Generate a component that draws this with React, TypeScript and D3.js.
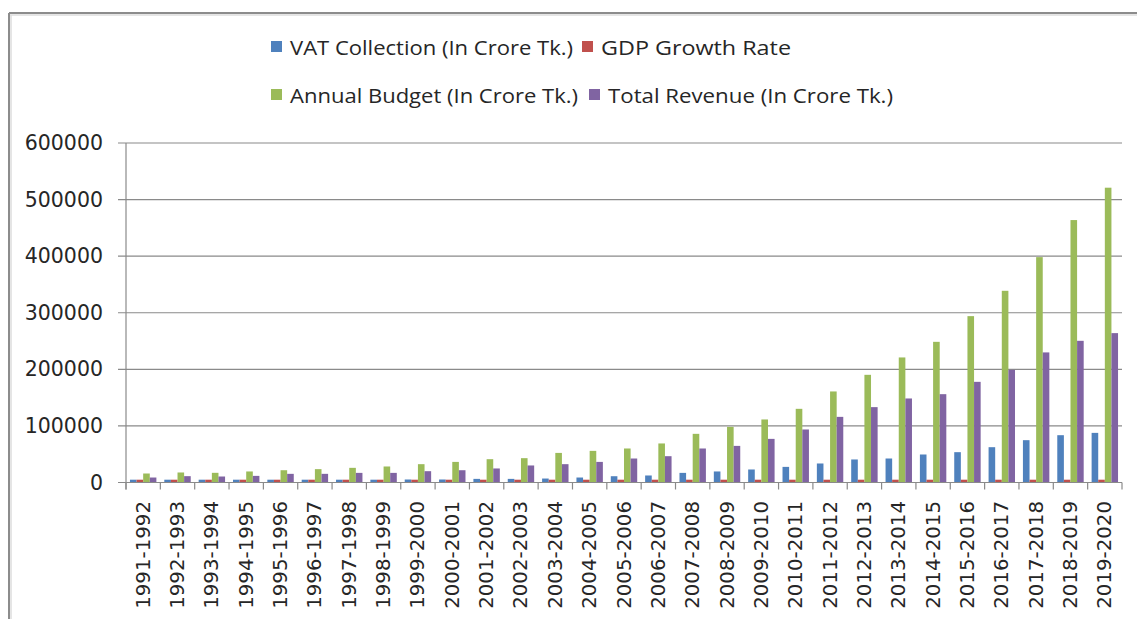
import React from "react";
import * as d3 from "d3";

const categories = [
  "1991-1992","1992-1993","1993-1994","1994-1995","1995-1996","1996-1997","1997-1998","1998-1999","1999-2000","2000-2001",
  "2001-2002","2002-2003","2003-2004","2004-2005","2005-2006","2006-2007","2007-2008","2008-2009","2009-2010","2010-2011",
  "2011-2012","2012-2013","2013-2014","2014-2015","2015-2016","2016-2017","2017-2018","2018-2019","2019-2020",
];

const vatCollection = [
  1200, 2300, 2500, 2900, 3000, 3200, 3700, 4700, 5300, 5300,
  6400, 6400, 7000, 8800, 11100, 12400, 17000, 19500, 23000, 27600,
  33600, 40700, 42400, 49500, 53600, 62400, 74800, 83600, 87700,
];

const gdpGrowthRate = [
  5.04, 4.57, 4.08, 4.93, 4.62, 5.39, 5.23, 4.87, 5.94, 5.27,
  4.42, 5.26, 6.27, 5.96, 6.63, 6.43, 6.19, 5.74, 6.07, 6.71,
  6.52, 6.01, 6.06, 6.55, 7.11, 7.28, 7.86, 8.15, 5.24,
];

const annualBudget = [
  15900, 17700, 17100, 19500, 21700, 23600, 25900, 28300, 32400, 36400,
  41200, 43000, 52300, 55900, 60100, 69000, 86000, 98300, 111400, 130200,
  160900, 190300, 221000, 248600, 294000, 338800, 398300, 463800, 521000,
];

const totalRevenue = [
  8800, 11200, 10600, 11700, 15300, 15300, 17000, 17000, 20000, 21700,
  24800, 30100, 32400, 36400, 42400, 46500, 60100, 64700, 77100, 93700,
  116000, 133200, 148500, 156100, 177900, 199100, 229900, 250400, 264000,
];

const yTicks = [0, 100000, 200000, 300000, 400000, 500000, 600000];

const seriesNames = [
  "VAT Collection (In Crore Tk.)",
  "GDP Growth Rate",
  "Annual Budget (In Crore Tk.)",
  "Total Revenue (In Crore Tk.)",
];
const seriesValues = [vatCollection, gdpGrowthRate, annualBudget, totalRevenue];
const colors = ["#4F81BD", "#C0504D", "#9BBB59", "#8064A2"];

export default function App() {
  const W = 1137, H = 619;
  const left = 126, right = 1122, top = 143, bottom = 482.5;
  const x = d3.scaleBand<string>().domain(categories).range([left, right]).paddingInner(0).paddingOuter(0);
  const inner = d3.scaleBand<string>().domain(seriesNames).range([0, x.bandwidth()]).paddingInner(0).paddingOuter(0.6);
  const y = d3.scaleLinear().domain([0, 600000]).range([bottom, top]);
  const axisColor = "#8a8a8a";
  const font = "'DejaVu Sans', Verdana, sans-serif";
  const legendFont = "'Open Sans', sans-serif";

  const legendItems = [
    { i: 0, sx: 271, ty: 51, len: 283 },
    { i: 1, sx: 582, ty: 51, len: 190 },
    { i: 2, sx: 271, ty: 99, len: 288 },
    { i: 3, sx: 589, ty: 99, len: 285 },
  ];

  const boundaries = categories.map((c) => x(c)!).concat([right]);

  return (
    <svg width={W} height={H} style={{ position: "fixed", left: 0, top: 0, background: "#fff" }}>
      <rect x={0} y={0} width={W} height={H} fill="#fff" />
      {/* frame */}
      <line x1={9} y1={13} x2={W} y2={13} stroke="#8c8c8c" strokeWidth={2} />
      <line x1={9} y1={13} x2={9} y2={H} stroke="#8c8c8c" strokeWidth={2} />
      <line x1={10} y1={15} x2={W} y2={15} stroke="#dcdcdc" strokeWidth={1.5} />
      <line x1={11} y1={15} x2={11} y2={H} stroke="#dcdcdc" strokeWidth={1.5} />

      {/* legend */}
      {legendItems.map(({ i, sx, ty, len }) => (
        <g key={i}>
          <rect x={sx} y={ty - 10} width={11} height={11} fill={colors[i]} />
          <text x={sx + 19} y={ty} dominantBaseline="middle" fontFamily={legendFont} fontSize={20}
            fill="#262626" dy="-0.05em" textLength={len} lengthAdjust="spacingAndGlyphs">
            {seriesNames[i]}
          </text>
        </g>
      ))}

      {/* gridlines + y ticks */}
      {yTicks.map((t) => (
        <g key={t}>
          <line x1={left - 8} x2={right} y1={y(t)} y2={y(t)} stroke={axisColor} strokeWidth={1.2} />
          <text x={103} y={y(t)} textAnchor="end" dominantBaseline="central" fontFamily={font} fontSize={20.5} fill="#262626">
            {t}
          </text>
        </g>
      ))}
      {/* y axis */}
      <line x1={left} x2={left} y1={top} y2={bottom + 7} stroke={axisColor} strokeWidth={1.2} />
      {/* x ticks */}
      {boundaries.map((bx, k) => (
        <line key={k} x1={bx} x2={bx} y1={bottom} y2={bottom + 7} stroke={axisColor} strokeWidth={1.2} />
      ))}

      {/* bars */}
      {seriesValues.map((vals, si) => (
        <g key={si} fill={colors[si]}>
          {vals.map((v, ci) => {
            const h = Math.max(bottom - y(v), 2.8);
            return (
              <rect key={ci} x={x(categories[ci])! + inner(seriesNames[si])!} y={bottom - h} width={inner.bandwidth()} height={h} />
            );
          })}
        </g>
      ))}
      <line x1={left - 8} x2={right} y1={bottom} y2={bottom} stroke={axisColor} strokeWidth={1.2} />

      {/* x labels */}
      {categories.map((c) => {
        const cx = x(c)! + x.bandwidth() / 2;
        return (
          <text key={c} transform={`translate(${cx},${501}) rotate(-90)`} textAnchor="end" dominantBaseline="central"
            fontFamily={font} fontSize={19.8} fill="#262626">
            {c}
          </text>
        );
      })}
    </svg>
  );
}
